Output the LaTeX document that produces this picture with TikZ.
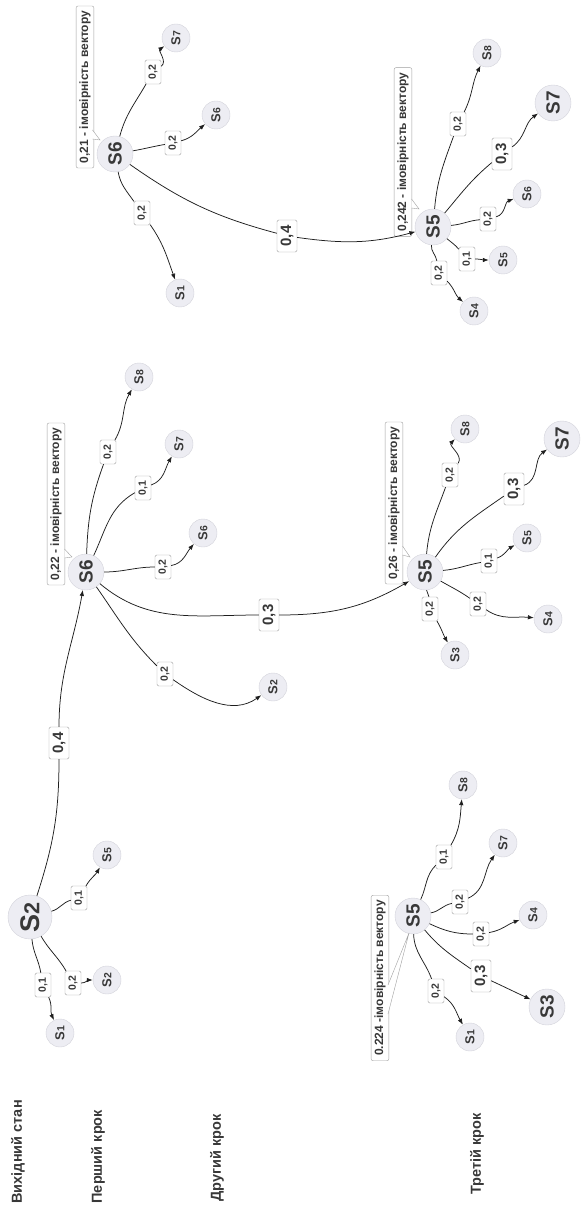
\documentclass[tikz,border=0pt]{standalone}
\usepackage{fontspec}
\setmainfont{Liberation Sans}
\usepackage{tikz}
\usetikzlibrary{arrows.meta}
\definecolor{nodefill}{HTML}{EDEDF3}
\definecolor{nodeline}{HTML}{D2D2DA}
\definecolor{boxline}{HTML}{A0A0A0}
\definecolor{txt}{HTML}{383838}
\definecolor{linec}{HTML}{1E1E1E}
\newcommand{\pv}[1]{\rotatebox{90}{#1}}
\newcommand{\sst}[1]{\rotatebox{90}{S\scalebox{.8}{#1}}}
\newcommand{\bst}[1]{\rotatebox{90}{S#1}}

\begin{document}
\begin{tikzpicture}[x=1pt, y=1pt,
	st/.style={circle, draw=nodeline, fill=nodefill, text=txt, inner sep=0pt},
	sm/.style={st, minimum size=28pt, font=\bfseries\fontsize{13}{13}\selectfont},
	md/.style={st, minimum size=36pt, font=\bfseries\fontsize{19}{19}\selectfont},
	lg/.style={st, minimum size=44pt, font=\bfseries\fontsize{27}{27}\selectfont},
	pr/.style={draw=boxline, fill=white, rounded corners=1.5pt, text=txt, inner sep=1pt, minimum width=16pt, minimum height=24pt, font=\bfseries\fontsize{10.5}{10.5}\selectfont},
	bpr/.style={pr, minimum width=20pt, minimum height=32pt, font=\bfseries\fontsize{15}{15}\selectfont},
	note/.style={draw=boxline, fill=white, rounded corners=2pt, rotate=90, text=txt, inner xsep=5pt, minimum height=17pt, font=\bfseries\fontsize{12}{12}\selectfont},
	head/.style={rotate=90, anchor=west, text=txt, font=\bfseries\fontsize{14.5}{14.5}\selectfont},
	wire/.style={draw=linec, line width=0.75pt},
	link/.style={wire, -{Latex[length=6pt,width=4.5pt]}},
	tail/.style={draw=boxline, fill=white, line width=0.4pt}
]
\useasboundingbox (0,0) rectangle (583,-1214);

\node[head] (h0) at (18,-1207) {Вихідний стан};
\node[head] (h1) at (98,-1207) {Перший крок};
\node[head] (h2) at (217,-1205) {Другий крок};
\node[head] (h3) at (477,-1198) {Третій крок};

\node[lg] (r) at (30,-917) {\sst{2}};
\node[sm] (a1) at (60,-1033) {\sst{1}};
\node[sm] (a2) at (107,-980) {\sst{2}};
\node[sm] (a5) at (107,-855) {\sst{5}};
\node[pr] (la1) at (43,-985) {\pv{0,1}};
\node[pr] (la2) at (73,-983) {\pv{0,2}};
\node[pr] (la5) at (79,-898) {\pv{0,1}};
\node[bpr] (lr) at (59,-743) {\pv{0,4}};

\node[md] (b) at (86,-572) {\bst{6}};
\node[sm] (b8) at (139,-377) {\sst{8}};
\node[sm] (b7) at (179,-444) {\sst{7}};
\node[sm] (b6) at (203,-533) {\sst{6}};
\node[sm] (b2) at (273,-687) {\sst{2}};
\node[pr] (lb8) at (108,-452) {\pv{0,2}};
\node[pr] (lb7) at (143,-488) {\pv{0,1}};
\node[pr] (lb6) at (163,-567) {\pv{0,2}};
\node[pr] (lb2) at (165,-674) {\pv{0,2}};
\node[bpr] (lbe) at (269,-615) {\pv{0,3}};
\node[note] (nb) at (56,-504) {0,22 - імовірність вектору};

\node[md] (c) at (115,-154) {\bst{6}};
\node[sm] (c7) at (176,-38) {\sst{7}};
\node[sm] (c6) at (216,-115) {\sst{6}};
\node[sm] (c1) at (180,-293) {\sst{1}};
\node[pr] (lc7) at (153,-72) {\pv{0,2}};
\node[pr] (lc6) at (173,-143) {\pv{0,2}};
\node[pr] (lc1) at (142,-213) {\pv{0,2}};
\node[bpr] (lcd) at (287,-236) {\pv{0,4}};
\node[note] (nc) at (85,-87) {0,21 - імовірність вектору};

\node[md] (d) at (433,-227) {\bst{5}};
\node[sm] (d8) at (487,-53) {\sst{8}};
\node[md] (d7) at (553,-103) {\bst{7}};
\node[sm] (d6) at (527,-194) {\sst{6}};
\node[sm] (d5) at (503,-260) {\sst{5}};
\node[sm] (d4) at (474,-311) {\sst{4}};
\node[pr] (ld8) at (458,-124) {\pv{0,2}};
\node[bpr] (ld7) at (502,-154) {\pv{0,3}};
\node[pr] (ld6) at (488,-219) {\pv{0,2}};
\node[pr] (ld5) at (467,-259) {\pv{0,1}};
\node[pr] (ld4) at (439,-273) {\pv{0,2}};
\node[note] (nd) at (403,-152) {0,242 - імовірність вектору};

\node[md] (e) at (425,-572) {\bst{5}};
\node[sm] (e8) at (465,-429) {\sst{8}};
\node[md] (e7) at (562,-439) {\bst{7}};
\node[sm] (e5) at (527,-538) {\sst{5}};
\node[sm] (e4) at (548,-619) {\sst{4}};
\node[sm] (e3) at (455,-655) {\sst{3}};
\node[pr] (le8) at (450,-475) {\pv{0,2}};
\node[bpr] (le7) at (514,-489) {\pv{0,3}};
\node[pr] (le5) at (489,-561) {\pv{0,1}};
\node[pr] (le4) at (478,-604) {\pv{0,2}};
\node[pr] (le3) at (430,-609) {\pv{0,2}};
\node[note] (ne) at (394,-503) {0,26 - імовірність вектору};

\node[md] (f) at (413,-916) {\bst{5}};
\node[sm] (f8) at (463,-785) {\sst{8}};
\node[sm] (f7) at (503,-843) {\sst{7}};
\node[sm] (f4) at (533,-915) {\sst{4}};
\node[md] (f3) at (547,-1007) {\bst{3}};
\node[sm] (f1) at (470,-1037) {\sst{1}};
\node[pr] (lf8) at (444,-857) {\pv{0,1}};
\node[pr] (lf7) at (460,-902) {\pv{0,2}};
\node[pr] (lf4) at (481,-934) {\pv{0,2}};
\node[bpr] (lf3) at (481,-976) {\pv{0,3}};
\node[pr] (lf1) at (436,-991) {\pv{0,2}};
\node[note] (nf) at (380,-978) {0.224 -імовірність вектору};

\path
(r) edge[wire, out=-85, in=100] (la1) (la1) edge[link, out=-65, in=115] (a1)
(r) edge[wire, out=-60, in=120] (la2) (la2) edge[link, out=0, in=180] (a2)
(r) edge[wire, out=15, in=195] (la5) (la5) edge[link, out=60, in=240] (a5)
(r) edge[wire, out=72, in=-90] (lr) (lr) edge[link, out=90, in=-100] (b)
;
\path
(b) edge[wire, out=88, in=250] (lb8) (lb8) edge[link, out=60, in=240] (b8)
(b) edge[wire, out=65, in=210] (lb7) (lb7) edge[link, out=20, in=240] (b7)
(b) edge[wire, out=0, in=180] (lb6) (lb6) edge[link, out=10, in=230] (b6)
(b) edge[wire, out=-55, in=135] (lb2) (lb2) edge[link, out=-35, in=215] (b2)
(b) edge[wire, out=-40, in=180] (lbe) (lbe) edge[link, out=0, in=210] (e)
;
\path
(c) edge[wire, out=75, in=240] (lc7) (lc7) edge[link, out=35, in=215] (c7)
(c) edge[wire, out=10, in=190] (lc6) (lc6) edge[link, out=15, in=220] (c6)
(c) edge[wire, out=-80, in=125] (lc1) (lc1) edge[link, out=-55, in=110] (c1)
(c) edge[wire, out=-35, in=165] (lcd) (lcd) edge[link, out=-8, in=195] (d)
;
\path
(d) edge[wire, out=85, in=250] (ld8) (ld8) edge[link, out=63, in=243] (d8)
(d) edge[wire, out=50, in=220] (ld7) (ld7) edge[link, out=35, in=215] (d7)
(d) edge[wire, out=5, in=185] (ld6) (ld6) edge[link, out=15, in=200] (d6)
(d) edge[wire, out=-40, in=130] (ld5) (ld5) edge[link, out=0, in=180] (d5)
(d) edge[wire, out=-95, in=100] (ld4) (ld4) edge[link, out=-45, in=140] (d4)
;
\path
(e) edge[wire, out=85, in=250] (le8) (le8) edge[link, out=55, in=225] (e8)
(e) edge[wire, out=55, in=215] (le7) (le7) edge[link, out=20, in=215] (e7)
(e) edge[wire, out=5, in=190] (le5) (le5) edge[link, out=20, in=210] (e5)
(e) edge[wire, out=-30, in=145] (le4) (le4) edge[link, out=-35, in=175] (e4)
(e) edge[wire, out=-85, in=95] (le3) (le3) edge[link, out=-60, in=120] (e3)
;
\path
(f) edge[wire, out=65, in=225] (lf8) (lf8) edge[link, out=60, in=265] (f8)
(f) edge[wire, out=10, in=190] (lf7) (lf7) edge[link, out=25, in=235] (f7)
(f) edge[wire, out=-25, in=180] (lf4) (lf4) edge[link, out=10, in=200] (f4)
(f) edge[wire, out=-50, in=145] (lf3) (lf3) edge[link, out=-25, in=155] (f3)
(f) edge[wire, out=-88, in=110] (lf1) (lf1) edge[link, out=-35, in=120] (f1)
;

\coordinate (tb) at (72,-557);
\coordinate (tc) at (100,-140);
\coordinate (td) at (419,-209);
\coordinate (te) at (410,-557);
\coordinate (tf) at (409,-933);
\path[tail] (64.5,-549) -- (tb) -- (64.5,-558);
\path[tail] (92.5,-130) -- (tc) -- (92.5,-139);
\path[tail] (411.5,-199) -- (td) -- (411.5,-208);
\path[tail] (402.5,-546) -- (te) -- (402.5,-555);
\path[tail] (388,-985) -- (tf) -- (388,-1014);
\end{tikzpicture}
\end{document}
